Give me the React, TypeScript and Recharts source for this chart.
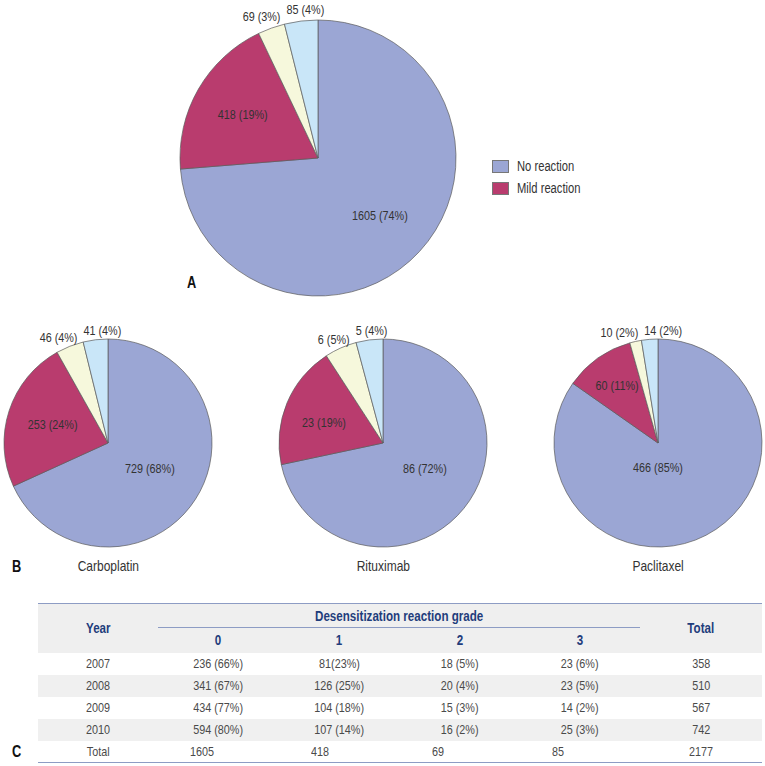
import React from 'react';
import { PieChart, Pie, Cell, Legend } from 'recharts';

// ---------- data ----------
const categories = ['No reaction', 'Mild reaction', 'Grade 2', 'Grade 3'];
const overallValues = [1605, 418, 69, 85];
const overallPct = [74, 19, 3, 4];
const carboplatinValues = [729, 253, 46, 41];
const carboplatinPct = [68, 24, 4, 4];
const rituximabValues = [86, 23, 6, 5];
const rituximabPct = [72, 19, 5, 4];
const paclitaxelValues = [466, 60, 10, 14];
const paclitaxelPct = [85, 11, 2, 2];
const drugNames = ['Carboplatin', 'Rituximab', 'Paclitaxel'];

const tableYears = ['2007', '2008', '2009', '2010', 'Total'];
const tableGrade0 = ['236 (66%)', '341 (67%)', '434 (77%)', '594 (80%)', '1605'];
const tableGrade1 = ['81(23%)', '126 (25%)', '104 (18%)', '107 (14%)', '418'];
const tableGrade2 = ['18 (5%)', '20 (4%)', '15 (3%)', '16 (2%)', '69'];
const tableGrade3 = ['23 (6%)', '23 (5%)', '14 (2%)', '25 (3%)', '85'];
const tableTotals = ['358', '510', '567', '742', '2177'];
const gradeHeaders = ['0', '1', '2', '3'];

// ---------- style ----------
const COLORS = ['#9ba6d4', '#b93c6e', '#f6f8dc', '#c9e6f8'];
const FONT = '"Liberation Sans", Arial, "DejaVu Sans", sans-serif';
const TXT = '#333';
const SX = 0.8; // horizontal condensing

type InnerCfg = { f: number; angle?: number };
type PieLayout = { cx: number; cy: number; r: number; inner: InnerCfg[]; outerGap: number };

const layoutA: PieLayout = { cx: 318, cy: 158, r: 138, inner: [{ f: 0.61 }, { f: 0.63 }], outerGap: 12 };
const layoutCarbo: PieLayout = { cx: 108, cy: 443, r: 104, inner: [{ f: 0.47, angle: -31 }, { f: 0.56 }], outerGap: 9 };
const layoutRitux: PieLayout = { cx: 383, cy: 443, r: 104, inner: [{ f: 0.47, angle: -31 }, { f: 0.6, angle: 161 }], outerGap: 9 };
const layoutPacl: PieLayout = { cx: 658, cy: 443, r: 104, inner: [{ f: 0.24, angle: -90 }, { f: 0.68 }], outerGap: 9 };

const RAD = Math.PI / 180;

function angleInfo(values: number[]) {
  const total = values.reduce((a, b) => a + b, 0);
  let acc = 0;
  return values.map((v) => {
    const start = 90 - (acc / total) * 360;
    acc += v;
    const end = 90 - (acc / total) * 360;
    return { start, end, mid: (start + end) / 2 };
  });
}

function CText({ x, y, anchor, children }: { x: number; y: number; anchor: 'start' | 'middle' | 'end'; children: React.ReactNode }) {
  return (
    <text
      transform={`translate(${x},${y}) scale(${SX},1)`}
      x={0}
      y={0}
      textAnchor={anchor}
      dominantBaseline="central"
      fontFamily={FONT}
      fontSize={13.5}
      fill={TXT}
    >
      {children}
    </text>
  );
}

function makeLabel(values: number[], pcts: number[], layout: PieLayout) {
  const ang = angleInfo(values);
  return (props: any) => {
    const { cx, cy, outerRadius, index } = props;
    const text = `${values[index]} (${pcts[index]}%)`;
    if (index < 2) {
      const cfg = layout.inner[index];
      const a = (cfg.angle ?? ang[index].mid) * RAD;
      const r = outerRadius * cfg.f;
      return (
        <CText key={`l${index}`} x={cx + r * Math.cos(a)} y={cy - r * Math.sin(a)} anchor="middle">
          {text}
        </CText>
      );
    }
    const ro = outerRadius + layout.outerGap;
    const x2 = cx + ro * Math.cos(ang[2].mid * RAD);
    const x3 = cx + ro * Math.cos(ang[3].mid * RAD);
    const boundary = (x2 + x3) / 2;
    const y = cy - ro * Math.sin(ang[index].mid * RAD);
    return (
      <CText key={`l${index}`} x={index === 2 ? boundary - 3 : boundary + 3} y={y} anchor={index === 2 ? 'end' : 'start'}>
        {text}
      </CText>
    );
  };
}

function toData(values: number[]) {
  return values.map((v, i) => ({ name: categories[i], value: v }));
}

function renderPie(id: string, values: number[], pcts: number[], layout: PieLayout) {
  return (
    <Pie
      key={id}
      data={toData(values)}
      dataKey="value"
      nameKey="name"
      cx={layout.cx}
      cy={layout.cy}
      outerRadius={layout.r}
      startAngle={90}
      endAngle={-270}
      stroke="#5a5a5a"
      strokeWidth={0.7}
      label={makeLabel(values, pcts, layout)}
      labelLine={false}
      isAnimationActive={false}
    >
      {values.map((_, i) => (
        <Cell key={i} fill={COLORS[i]} />
      ))}
    </Pie>
  );
}

function N({ children, origin = 'center' }: { children: React.ReactNode; origin?: string }) {
  return (
    <span style={{ display: 'inline-block', transform: `scaleX(${SX})`, transformOrigin: origin, whiteSpace: 'nowrap' }}>
      {children}
    </span>
  );
}

const LegendContent = () => (
  <div style={{ fontFamily: FONT, fontSize: 14, color: TXT }}>
    {categories.slice(0, 2).map((c, i) => (
      <div key={c} style={{ display: 'flex', alignItems: 'center', height: 22 }}>
        <span
          style={{
            display: 'inline-block',
            width: 15,
            height: 11,
            background: COLORS[i],
            border: '0.5px solid #777',
            marginRight: 8,
          }}
        />
        <N origin="left center">{c}</N>
      </div>
    ))}
  </div>
);

const panelLetter = (letter: string, left: number, top: number) => (
  <div
    style={{
      position: 'absolute',
      left,
      top,
      fontFamily: FONT,
      fontWeight: 'bold',
      fontSize: 16,
      color: '#111',
      lineHeight: '18px',
    }}
  >
    <N origin="left center">{letter}</N>
  </div>
);

const headColor = '#1f3d7c';
const lineColor = '#8d9cc4';

export default function App() {
  const drugCenters = [layoutCarbo.cx, layoutRitux.cx, layoutPacl.cx];
  const cellBase: React.CSSProperties = { textAlign: 'center', padding: 0 };
  const headCell: React.CSSProperties = { ...cellBase, color: headColor, fontSize: 14.5, fontWeight: 'bold' };
  return (
    <div style={{ position: 'absolute', left: 0, top: 0, width: 765, height: 766, background: '#fff', overflow: 'hidden' }}>
      <div style={{ position: 'absolute', left: 0, top: 0 }}>
        <PieChart width={765} height={590} margin={{ top: 0, right: 0, bottom: 0, left: 0 }}>
          {renderPie('A', overallValues, overallPct, layoutA)}
          {renderPie('carbo', carboplatinValues, carboplatinPct, layoutCarbo)}
          {renderPie('ritux', rituximabValues, rituximabPct, layoutRitux)}
          {renderPie('pacl', paclitaxelValues, paclitaxelPct, layoutPacl)}
          <Legend
            content={<LegendContent />}
            wrapperStyle={{ position: 'absolute', left: 492, top: 155, width: 140, height: 44 }}
          />
        </PieChart>
      </div>

      {panelLetter('A', 187, 274)}
      {panelLetter('B', 12, 558)}
      {panelLetter('C', 12, 743)}

      {drugNames.map((d, i) => (
        <div
          key={d}
          style={{
            position: 'absolute',
            left: drugCenters[i] - 60,
            width: 120,
            top: 557,
            textAlign: 'center',
            fontFamily: FONT,
            fontSize: 15,
            color: TXT,
            lineHeight: '18px',
          }}
        >
          <N>{d}</N>
        </div>
      ))}

      <table
        style={{
          position: 'absolute',
          left: 38,
          top: 603,
          width: 724,
          borderCollapse: 'collapse',
          fontFamily: FONT,
          fontSize: 13.5,
          color: '#4a4a4a',
          borderTop: `1.5px solid ${lineColor}`,
          borderBottom: `1.5px solid ${lineColor}`,
          tableLayout: 'fixed',
        }}
      >
        <colgroup>
          <col style={{ width: 120 }} />
          <col style={{ width: 121 }} />
          <col style={{ width: 121 }} />
          <col style={{ width: 120 }} />
          <col style={{ width: 120 }} />
          <col style={{ width: 122 }} />
        </colgroup>
        <thead>
          <tr style={{ background: '#efefef', height: 24 }}>
            <th rowSpan={2} style={headCell}><N>Year</N></th>
            <th colSpan={4} style={{ ...headCell, borderBottom: `1px solid ${lineColor}` }}>
              <N>Desensitization reaction grade</N>
            </th>
            <th rowSpan={2} style={headCell}><N>Total</N></th>
          </tr>
          <tr style={{ background: '#efefef', height: 25 }}>
            {gradeHeaders.map((g) => (
              <th key={g} style={headCell}><N>{g}</N></th>
            ))}
          </tr>
        </thead>
        <tbody>
          {tableYears.map((y, i) => {
            const isTotal = y === 'Total';
            const vals = [tableGrade0[i], tableGrade1[i], tableGrade2[i], tableGrade3[i]];
            return (
              <tr key={y} style={{ background: i % 2 === 1 ? '#f0f0f0' : '#fff', height: 22 }}>
                <td style={cellBase}><N>{y}</N></td>
                {vals.map((v, j) => (
                  <td key={j} style={isTotal ? { textAlign: 'left', paddingLeft: 32 } : cellBase}>
                    <N origin={isTotal ? 'left center' : 'center'}>{v}</N>
                  </td>
                ))}
                <td style={cellBase}><N>{tableTotals[i]}</N></td>
              </tr>
            );
          })}
        </tbody>
      </table>
    </div>
  );
}
